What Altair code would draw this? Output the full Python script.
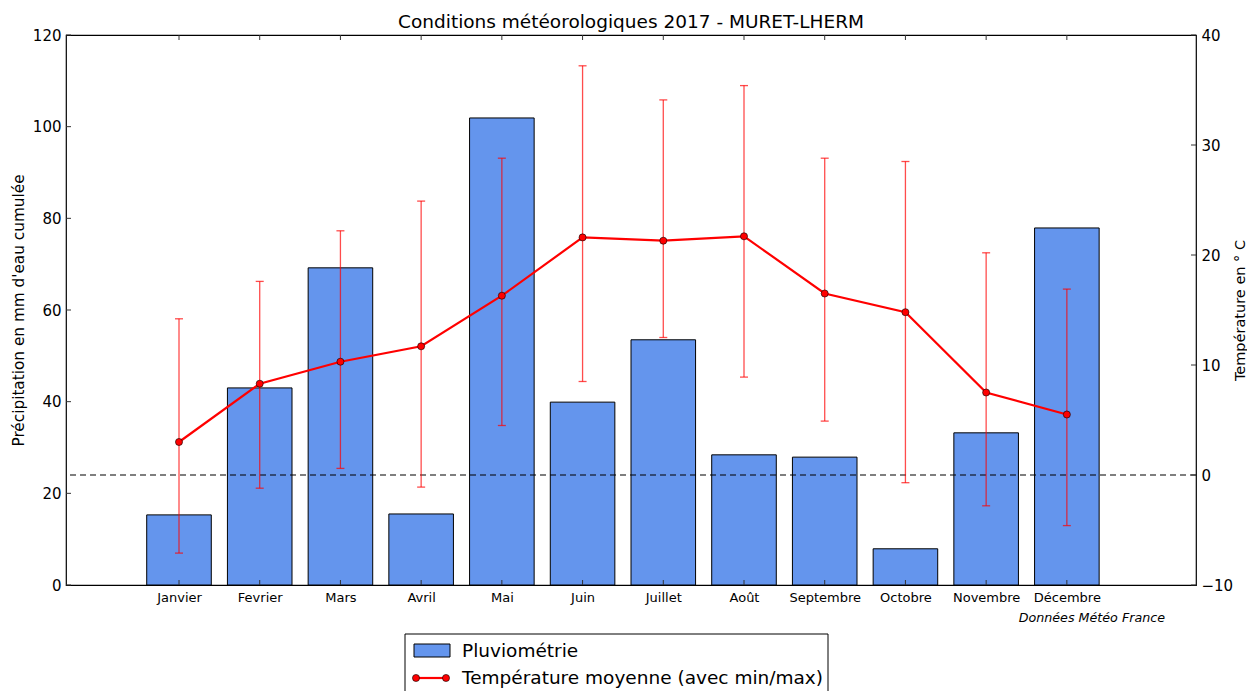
import json
import altair as alt
import pandas as pd

months = ["Janvier", "Fevrier", "Mars", "Avril", "Mai", "Juin", "Juillet",
          "Août", "Septembre", "Octobre", "Novembre", "Décembre"]
precip = [15.3, 43.0, 69.2, 15.5, 101.9, 39.9, 53.5, 28.4, 27.9, 7.9, 33.2, 77.9]
t_mean = [3.0, 8.3, 10.3, 11.7, 16.3, 21.6, 21.3, 21.7, 16.5, 14.8, 7.5, 5.5]
t_min = [-7.1, -1.2, 0.6, -1.1, 4.5, 8.5, 12.5, 8.9, 4.9, -0.7, -2.8, -4.6]
t_max = [14.2, 17.6, 22.2, 24.9, 28.8, 37.2, 34.1, 35.4, 28.8, 28.5, 20.2, 16.9]
precip_ticks = [0, 20, 40, 60, 80, 100, 120]
temp_ticks = [-10, 0, 10, 20, 30, 40]

FONT = "DejaVu Sans"
W, H = 1130, 550

df = pd.DataFrame({
    "mois": months,
    "pos": [i + 1.4 for i in range(len(months))],
    "left": [i + 1.0 for i in range(len(months))],
    "right": [i + 1.8 for i in range(len(months))],
    "base": [0] * len(months),
    "precip": precip,
    "tmean": t_mean,
    "tmin": t_min,
    "tmax": t_max,
})
pticks = pd.DataFrame({"v": precip_ticks})
tticks = pd.DataFrame({"v": temp_ticks})

xscale = alt.Scale(domain=[0, 14], nice=False, zero=False, padding=0)
label_expr = json.dumps(months) + "[round(datum.value - 1.4)]"
xaxis = alt.Axis(values=df["pos"].tolist(), labelExpr=label_expr, title=None,
                 ticks=False, domain=False, grid=False, labelFontSize=13,
                 labelFont=FONT, labelColor="black", labelPadding=6)

pscale = alt.Scale(domain=[0, 120], nice=False, zero=False, padding=0)
paxis = alt.Axis(values=precip_ticks, orient="left", ticks=False, domain=False, grid=False,
                 title="Précipitation en mm d'eau cumulée", titleFontSize=15.3,
                 titleFontWeight="normal", titleFont=FONT, titleColor="black",
                 titleX=-48, titleY=H / 2, titleAngle=270, titleAlign="center",
                 titleBaseline="middle", labelFontSize=15, labelFont=FONT,
                 labelColor="black", labelPadding=5)

tscale = alt.Scale(domain=[-10, 40], nice=False, zero=False, padding=0)
taxis = alt.Axis(values=temp_ticks, orient="right", ticks=False, domain=False, grid=False,
                 title="Température en ° C", titleFontSize=14.5,
                 titleFontWeight="normal", titleFont=FONT, titleColor="black",
                 titleX=44, titleY=H / 2, titleAngle=270, titleAlign="center",
                 titleBaseline="middle", labelFontSize=15, labelFont=FONT,
                 labelColor="black", labelPadding=5, labelExpr="replace(datum.label, '-', '−')")

base = alt.Chart(df)

bars = base.mark_bar(color="#6495ED", stroke="black", strokeWidth=1, orient="vertical").encode(
    x=alt.X("left:Q", scale=xscale, axis=xaxis),
    x2="right:Q",
    y=alt.Y("precip:Q", scale=pscale, axis=paxis),
    y2="base:Q",
)
left_ticks = alt.Chart(pticks).mark_rule(color="#333", strokeWidth=1).encode(
    x=alt.value(0), x2=alt.value(5),
    y=alt.Y("v:Q", scale=pscale, axis=paxis),
)
bottom_ticks = base.mark_rule(color="#333", strokeWidth=1).encode(
    x=alt.X("pos:Q", scale=xscale, axis=xaxis),
    y=alt.value(H), y2=alt.value(H - 5),
)
top_ticks = base.mark_rule(color="#333", strokeWidth=1).encode(
    x=alt.X("pos:Q", scale=xscale, axis=xaxis),
    y=alt.value(0), y2=alt.value(5),
)
precip_group = alt.layer(bars, left_ticks, bottom_ticks, top_ticks)

zero_line = alt.Chart(pd.DataFrame({"v": [0]})).mark_rule(
    color="black", strokeDash=[6, 4], strokeWidth=1.2
).encode(y=alt.Y("v:Q", scale=tscale, axis=taxis))

err = base.mark_rule(color="red", opacity=0.7, strokeWidth=1.3).encode(
    x=alt.X("pos:Q", scale=xscale, axis=xaxis),
    y=alt.Y("tmin:Q", scale=tscale, axis=taxis),
    y2="tmax:Q",
)
cap_hi = base.mark_rule(color="red", opacity=0.7, strokeWidth=1.3, xOffset=-4, x2Offset=4).encode(
    x=alt.X("pos:Q", scale=xscale, axis=xaxis), x2="pos:Q",
    y=alt.Y("tmax:Q", scale=tscale, axis=taxis),
)
cap_lo = base.mark_rule(color="red", opacity=0.7, strokeWidth=1.3, xOffset=-4, x2Offset=4).encode(
    x=alt.X("pos:Q", scale=xscale, axis=xaxis), x2="pos:Q",
    y=alt.Y("tmin:Q", scale=tscale, axis=taxis),
)
line = base.mark_line(color="red", strokeWidth=2.2).encode(
    x=alt.X("pos:Q", scale=xscale, axis=xaxis),
    y=alt.Y("tmean:Q", scale=tscale, axis=taxis),
)
pts = base.mark_point(filled=True, fill="red", stroke="black", strokeWidth=0.6,
                      size=50, opacity=1, shape="circle").encode(
    x=alt.X("pos:Q", scale=xscale, axis=xaxis),
    y=alt.Y("tmean:Q", scale=tscale, axis=taxis),
)
right_ticks = alt.Chart(tticks).mark_rule(color="#333", strokeWidth=1).encode(
    x=alt.value(W - 5), x2=alt.value(W),
    y=alt.Y("v:Q", scale=tscale, axis=taxis),
)
temp_group = alt.layer(zero_line, err, cap_hi, cap_lo, line, pts, right_ticks)

one = alt.Data(values=[{}])
title_txt = alt.Chart(one).mark_text(text="Conditions météorologiques 2017 - MURET-LHERM",
                                     fontSize=18.5, font=FONT, align="center",
                                     baseline="alphabetic", color="black").encode(
    x=alt.value(W / 2), y=alt.value(-7))
leg_box = alt.Chart(one).mark_rect(fill="white", stroke="black", strokeWidth=1).encode(
    x=alt.value(339), x2=alt.value(762), y=alt.value(599), y2=alt.value(700))
leg_sw = alt.Chart(one).mark_rect(fill="#6495ED", stroke="black", strokeWidth=1).encode(
    x=alt.value(348), x2=alt.value(384), y=alt.value(609), y2=alt.value(622))
leg_t1 = alt.Chart(one).mark_text(text="Pluviométrie", fontSize=18.5, font=FONT,
                                  align="left", baseline="middle", color="black").encode(
    x=alt.value(396), y=alt.value(616))
leg_ln = alt.Chart(one).mark_rule(color="red", strokeWidth=2.2).encode(
    x=alt.value(350), x2=alt.value(380), y=alt.value(643))
leg_p1 = alt.Chart(one).mark_point(filled=True, fill="red", stroke="black", strokeWidth=0.6,
                                   size=50, opacity=1, shape="circle").encode(
    x=alt.value(350), y=alt.value(643))
leg_p2 = alt.Chart(one).mark_point(filled=True, fill="red", stroke="black", strokeWidth=0.6,
                                   size=50, opacity=1, shape="circle").encode(
    x=alt.value(380), y=alt.value(643))
leg_t2 = alt.Chart(one).mark_text(text="Température moyenne (avec min/max)", fontSize=18.5,
                                  font=FONT, align="left", baseline="middle", color="black").encode(
    x=alt.value(396), y=alt.value(643))
caption = alt.Chart(one).mark_text(text="Données Météo France", fontSize=12.7, font=FONT,
                                   fontStyle="italic", align="right", baseline="middle",
                                   color="black").encode(
    x=alt.value(1099), y=alt.value(583))
extras = alt.layer(title_txt, leg_box, leg_sw, leg_t1, leg_ln, leg_p1, leg_p2, leg_t2, caption)

chart = alt.layer(precip_group, temp_group, extras).resolve_scale(
    y="independent"
).properties(
    width=W, height=H,
    autosize=alt.AutoSizeParams(type="none"),
    padding={"left": 58, "top": 27, "right": 51, "bottom": 106},
).configure(background="white").configure_view(stroke="black", strokeWidth=1.2)

chart.save("out.html", embed_options={"renderer": "svg", "actions": False})
